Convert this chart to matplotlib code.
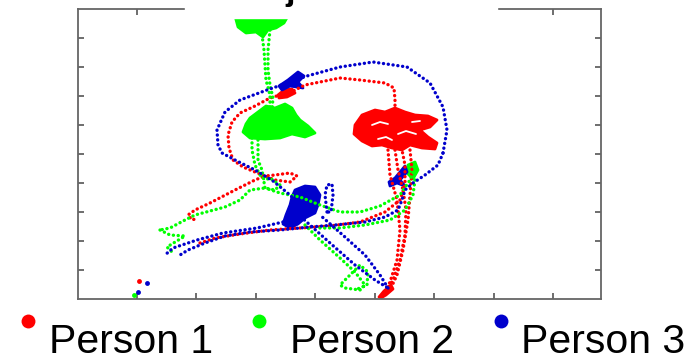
import numpy as np
import matplotlib.pyplot as plt
from matplotlib.patches import Rectangle
from matplotlib.lines import Line2D

# Tracked trajectories in frame coordinates (x right, y down)
# Person 1 (red)
p1_paths = [
    [(395, 115), (395, 100), (394, 88), (385, 83), (360, 80), (340, 78), (320, 82),
     (305, 85), (295, 90), (287, 95), (280, 95), (270, 98), (255, 106), (240, 113),
     (232, 122), (228, 135), (229, 148), (233, 160), (243, 167), (255, 172), (265, 176),
     (275, 175), (290, 173), (297, 176), (290, 182), (275, 180), (265, 176), (255, 180),
     (235, 190), (210, 203), (195, 210), (188, 215), (192, 220), (198, 218)],
    [(200, 243), (215, 238), (240, 234), (270, 230), (300, 228), (330, 226), (360, 222),
     (385, 212), (400, 200), (405, 185), (405, 165), (402, 150)],
    [(395, 150), (398, 170), (403, 190), (406, 210), (405, 235), (400, 260), (393, 280), (385, 293)],
    [(410, 150), (412, 170), (410, 195), (408, 220), (403, 250), (397, 275), (390, 290)],
    [(388, 150), (390, 175), (397, 200), (400, 230), (397, 260), (390, 282), (383, 295)],
]
p1_blobs = [
    [(355, 125), (362, 115), (375, 110), (385, 112), (395, 108), (405, 112), (415, 115),
     (428, 116), (437, 120), (430, 127), (420, 130), (428, 137), (437, 143), (435, 149),
     (422, 148), (410, 145), (402, 150), (392, 148), (382, 145), (372, 146), (362, 141),
     (354, 134)],
    [(278, 95), (284, 90), (292, 89), (295, 93), (287, 97), (279, 98)],
    [(379, 297), (384, 291), (391, 285), (393, 289), (386, 295), (381, 298)],
]
p1_gaps = [
    [(372, 125), (380, 122), (388, 124)],
    [(398, 134), (406, 131), (416, 134)],
    [(378, 139), (386, 137), (392, 140)],
    [(412, 122), (420, 121)],
]
p1_dots = [(139, 281)]

# Person 2 (green)
p2_paths = [
    [(262, 35), (264, 50), (265, 65), (266, 80), (270, 95), (270, 110)],
    [(270, 30), (268, 50), (268, 70), (270, 85), (273, 98), (272, 110)],
    [(252, 138), (252, 150), (255, 165), (260, 175), (265, 180), (270, 178), (280, 185),
     (275, 190), (265, 188), (250, 190), (240, 200), (225, 207), (210, 211), (195, 215),
     (185, 220), (170, 228), (160, 230)],
    [(258, 140), (258, 160), (262, 170), (265, 188), (280, 193), (300, 197), (320, 205),
     (340, 212), (360, 212), (380, 206), (400, 195), (410, 180), (415, 168)],
    [(415, 180), (413, 195), (405, 210), (390, 220), (365, 225), (340, 228), (320, 228)],
    [(305, 225), (320, 240), (340, 258), (355, 272), (365, 285), (360, 290), (345, 288),
     (340, 285), (350, 275), (360, 265), (368, 272), (367, 285), (355, 290)],
    [(160, 230), (170, 235), (185, 236), (167, 247), (172, 252)],
]
p2_blobs = [
    [(235, 16), (288, 16), (284, 23), (276, 28), (268, 30), (263, 37), (256, 32),
     (246, 33), (238, 27)],
    [(250, 118), (258, 112), (266, 106), (275, 108), (285, 104), (292, 108), (296, 115),
     (300, 120), (308, 126), (315, 133), (305, 137), (292, 134), (280, 138), (265, 139),
     (250, 138), (243, 132), (246, 124)],
    [(408, 165), (415, 162), (418, 170), (413, 179), (408, 174)],
]
p2_gaps = []
p2_dots = [(134, 295)]

# Person 3 (blue)
p3_paths = [
    [(443, 153), (447, 130), (443, 107), (430, 83), (407, 67), (373, 62), (340, 67),
     (307, 76), (290, 82), (267, 90), (240, 100), (225, 112), (217, 130), (218, 145),
     (222, 153), (235, 160), (255, 170), (273, 181), (290, 195), (300, 205)],
    [(443, 153), (438, 165), (425, 175), (413, 183), (405, 190), (402, 200), (398, 210),
     (385, 217), (365, 222), (335, 225), (310, 227), (280, 230), (250, 232), (225, 236),
     (205, 243), (188, 250), (180, 255)],
    [(283, 222), (257, 228), (223, 233), (197, 240), (173, 248), (165, 255)],
    [(290, 207), (310, 225), (330, 243), (355, 265), (375, 280), (388, 288)],
    [(388, 288), (380, 275), (365, 255), (345, 237), (320, 215)],
    [(327, 212), (325, 195), (327, 185), (332, 184), (333, 195), (331, 212), (327, 212)],
]
p3_blobs = [
    [(279, 86), (288, 80), (298, 72), (304, 76), (298, 82), (303, 88), (290, 86), (282, 90)],
    [(389, 182), (395, 178), (405, 166), (407, 172), (400, 180), (405, 186), (397, 183),
     (390, 186)],
    [(295, 190), (305, 186), (315, 187), (320, 195), (318, 205), (315, 213), (305, 218),
     (298, 224), (290, 228), (283, 224), (286, 215), (290, 205), (292, 197)],
]
p3_gaps = []
p3_dots = [(147, 283), (138, 292)]

names = ["Person 1", "Person 2", "Person 3"]
colors = ["#ff0000", "#00ff00", "#0000cc"]

xticks = [137, 196, 256, 315, 375, 434, 494, 553]
yticks = [38, 67, 96, 125, 154, 183, 212, 241, 270]

fig = plt.figure(figsize=(6.99, 3.58), dpi=100)
ax = fig.add_axes([78 / 699, 1 - 299 / 358, 523 / 699, 290 / 358])

people = [(p1_paths, p1_blobs, p1_gaps, p1_dots), (p2_paths, p2_blobs, p2_gaps, p2_dots),
          (p3_paths, p3_blobs, p3_gaps, p3_dots)]
for (paths, blobs, gaps, dots), c in zip(people, colors):
    for seg in paths:
        xs, ys = zip(*seg)
        ax.plot(xs, ys, color=c, lw=2.4, ls=(0, (0.05, 1.4)), dash_capstyle="round")
    for seg in blobs:
        xs, ys = zip(*seg)
        ax.fill(xs, ys, color=c, lw=2, joinstyle="round")
    for seg in gaps:
        xs, ys = zip(*seg)
        ax.plot(xs, ys, color="white", lw=1.3, solid_capstyle="round")
    xs, ys = zip(*dots)
    ax.plot(xs, ys, "o", color=c, ms=3.5, mec="none")

ax.set_xlim(78, 601)
ax.set_ylim(299, 9)
ax.set_xticks(xticks)
ax.set_yticks(yticks)
ax.set_xticklabels([])
ax.set_yticklabels([])
ax.tick_params(direction="in", top=True, right=True, length=4, width=1.2, color="#555555")
for s in ax.spines.values():
    s.set_color("#666666")
    s.set_linewidth(1.3)

# white title band hiding part of the top frame
fig.add_artist(Rectangle((185 / 699, 1 - 18 / 358), 312 / 699, 18 / 358,
                         transform=fig.transFigure, color="white", zorder=5))
fig.text(237 / 699, 1.0, "Trajectories", fontsize=24, weight="bold",
         family="Liberation Sans", va="baseline", zorder=6)

# legend
dot_x = [28, 259, 501]
text_x = [49, 290, 521]
for name, c, dx, tx in zip(names, colors, dot_x, text_x):
    fig.add_artist(Line2D([dx / 699], [1 - 321 / 358], marker="o", ms=10, color=c,
                          mec="none", transform=fig.transFigure))
    fig.text(tx / 699, 1 - 353 / 358, name, fontsize=29.5, family="Liberation Sans",
             va="baseline")

fig.savefig("out.png", dpi=100)
